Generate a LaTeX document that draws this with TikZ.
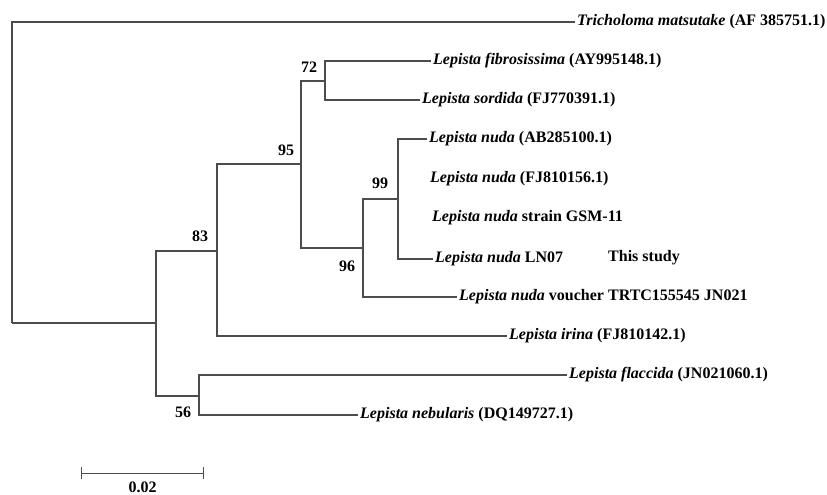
\documentclass[tikz,border=0pt]{standalone}
\usepackage{fontspec}
\setmainfont{Liberation Serif}
\usepackage{tikz}
\usetikzlibrary{arrows.meta,calc}

\begin{document}
\begin{tikzpicture}[x=1pt,y=-1pt,
		branch/.style={line width=1.3pt, draw=black!70},
		taxon/.style={anchor=west, inner sep=2pt, font=\fontsize{16}{18}\selectfont\bfseries},
		boot/.style={inner sep=1pt, font=\fontsize{16}{18}\selectfont\bfseries}]
			\useasboundingbox (0,0) rectangle (827,495);

			% internal nodes
			\coordinate (root) at (12,323);
			\coordinate (nA) at (156,323);
			\coordinate (n83) at (217,251);
			\coordinate (n95) at (301,164);
			\coordinate (n72) at (325,81);
			\coordinate (n96) at (363,248);
			\coordinate (n99) at (398,199);
			\coordinate (n56) at (199,396);

			% taxa
			\node (tri) [taxon, xshift=8pt] at (567,22) {\textit{Tricholoma matsutake} (AF 385751.1)};
			\node (fib) [taxon] at (431,61) {\textit{Lepista fibrosissima} (AY995148.1)};
			\node (sor) [taxon] at (420,100) {\textit{Lepista sordida} (FJ770391.1)};
			\node (ab) [taxon] at (427,139) {\textit{Lepista nuda} (AB285100.1)};
			\node (fj) [taxon] at (428,179) {\textit{Lepista nuda} (FJ810156.1)};
			\node (gsm) [taxon] at (430,218) {\textit{Lepista nuda} strain GSM-11};
			\node (ln) [taxon] at (433,259) {\textit{Lepista nuda} LN07};
			\node (study) [boot, anchor=west] at (607,258) {This study};
			\node (vou) [taxon] at (457,297) {\textit{Lepista nuda} voucher TRTC155545 JN021};
			\node (iri) [taxon] at (507,336) {\textit{Lepista irina} (FJ810142.1)};
			\node (fla) [taxon] at (567,375) {\textit{Lepista flaccida} (JN021060.1)};
			\node (neb) [taxon] at (358,415) {\textit{Lepista nebularis} (DQ149727.1)};

			% branches
			\draw[branch] (root) |- (tri.west);
			\draw[branch] (root) -- (nA);
			\draw[branch] (nA) |- (n83);
			\draw[branch] (nA) |- (n56);
			\draw[branch] (n83) |- (n95);
			\draw[branch] (n83) |- (iri.west);
			\draw[branch] (n95) |- (n72);
			\draw[branch] (n95) |- (n96);
			\draw[branch] (n72) |- (fib.west);
			\draw[branch] (n72) |- (sor.west);
			\draw[branch] (n96) |- (n99);
			\draw[branch] (n96) |- (vou.west);
			\draw[branch] (n99) |- (ab.west);
			\draw[branch] (n99) |- (ln.west);
			\draw[branch] (n56) |- (fla.west);
			\draw[branch] (n56) |- (neb.west);

			% bootstrap values
			\node (b72) [boot] at (309,67) {72};
			\node (b95) [boot] at (286,150) {95};
			\node (b83) [boot] at (200,236) {83};
			\node (b99) [boot] at (380,183) {99};
			\node (b96) [boot] at (347,266) {96};
			\node (b56) [boot] at (183,412) {56};

			% scale bar
			\coordinate (sl) at (81,473);
			\coordinate (sr) at (204,473);
			\draw[branch, line width=1pt, {Bar[width=12pt]}-{Bar[width=12pt]}] (sl) -- (sr);
			\node (sc) [boot] at ($(sl)!0.5!(sr) + (0,14)$) {0.02};
		\end{tikzpicture}
\end{document}
